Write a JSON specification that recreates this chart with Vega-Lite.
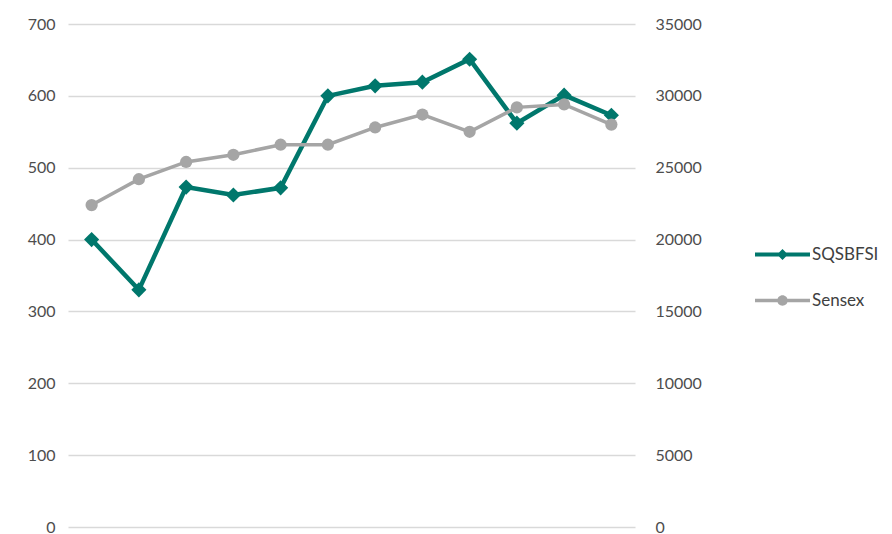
{
  "$schema": "https://vega.github.io/schema/vega-lite/v6.json",
  "width": 567,
  "height": 503,
  "autosize": {"type": "none"},
  "padding": {"left": 68, "top": 24, "right": 257, "bottom": 7},
  "background": "white",
  "config": {
    "view": {"stroke": null},
    "font": "Lato",
    "legend": {"rowPadding": 10},
    "axis": {"labelFont": "Lato", "labelFontSize": 16, "labelColor": "#4D4D4D", "domain": false, "ticks": false, "gridColor": "#D9D9D9", "gridWidth": 1.5}
  },
  "data": {
    "values": [
      {"idx": 1, "series": "SQSBFSI", "value": 400},
      {"idx": 2, "series": "SQSBFSI", "value": 330},
      {"idx": 3, "series": "SQSBFSI", "value": 473},
      {"idx": 4, "series": "SQSBFSI", "value": 462},
      {"idx": 5, "series": "SQSBFSI", "value": 472},
      {"idx": 6, "series": "SQSBFSI", "value": 600},
      {"idx": 7, "series": "SQSBFSI", "value": 614},
      {"idx": 8, "series": "SQSBFSI", "value": 619},
      {"idx": 9, "series": "SQSBFSI", "value": 651},
      {"idx": 10, "series": "SQSBFSI", "value": 562},
      {"idx": 11, "series": "SQSBFSI", "value": 601},
      {"idx": 12, "series": "SQSBFSI", "value": 573},
      {"idx": 1, "series": "Sensex", "value": 22400},
      {"idx": 2, "series": "Sensex", "value": 24200},
      {"idx": 3, "series": "Sensex", "value": 25400},
      {"idx": 4, "series": "Sensex", "value": 25900},
      {"idx": 5, "series": "Sensex", "value": 26600},
      {"idx": 6, "series": "Sensex", "value": 26600},
      {"idx": 7, "series": "Sensex", "value": 27800},
      {"idx": 8, "series": "Sensex", "value": 28700},
      {"idx": 9, "series": "Sensex", "value": 27500},
      {"idx": 10, "series": "Sensex", "value": 29200},
      {"idx": 11, "series": "Sensex", "value": 29400},
      {"idx": 12, "series": "Sensex", "value": 28000}
    ]
  },
  "encoding": {
    "x": {"field": "idx", "type": "ordinal", "scale": {"type": "point", "padding": 0.5}, "axis": null},
    "color": {
      "field": "series", "type": "nominal",
      "scale": {"domain": ["SQSBFSI", "Sensex"], "range": ["#00776C", "#A5A5A5"]},
      "legend": {
        "title": null,
        "orient": "none",
        "legendX": 687,
        "legendY": 203,
        "symbolSize": 3025,
        "labelFont": "Lato",
        "labelFontSize": 17,
        "labelColor": "#404040",
        "labelOffset": 2,
        "rowPadding": 10,
        "encode": {
          "symbols": {
            "update": {
              "shape": {"signal": "datum.value === 'SQSBFSI' ? 'M-1,-0.07L1,-0.07L1,0.07L-1,0.07Z M0,-0.2L0.2,0L0,0.2L-0.2,0Z' : 'M-1,-0.06L1,-0.06L1,0.06L-1,0.06Z M-0.19,0A0.19,0.19,0,1,1,0.19,0A0.19,0.19,0,1,1,-0.19,0Z'"},
              "fill": {"signal": "datum.value === 'SQSBFSI' ? '#00776C' : '#A5A5A5'"},
              "stroke": {"value": "transparent"},
              "strokeWidth": {"value": 0},
              "opacity": {"value": 1}
            }
          }
        }
      }
    }
  },
  "layer": [
    {
      "transform": [{"filter": "datum.series === 'SQSBFSI'"}],
      "encoding": {
        "y": {"field": "value", "type": "quantitative", "scale": {"domain": [0, 700]},
          "axis": {"title": null, "orient": "left", "values": [0, 100, 200, 300, 400, 500, 600, 700], "labelPadding": 13, "grid": true}}
      },
      "layer": [
        {"mark": {"type": "line", "strokeWidth": 4.5}},
        {"mark": {"type": "point", "shape": "diamond", "filled": true, "opacity": 1, "size": 230}}
      ]
    },
    {
      "transform": [{"filter": "datum.series === 'Sensex'"}],
      "encoding": {
        "y": {"field": "value", "type": "quantitative", "scale": {"domain": [0, 35000]},
          "axis": {"title": null, "orient": "right", "format": "d", "values": [0, 5000, 10000, 15000, 20000, 25000, 30000, 35000], "labelPadding": 20, "grid": false}}
      },
      "layer": [
        {"mark": {"type": "line", "strokeWidth": 3.5}},
        {"mark": {"type": "point", "shape": "circle", "filled": true, "opacity": 1, "size": 150}}
      ]
    }
  ],
  "resolve": {"scale": {"y": "independent"}}
}
